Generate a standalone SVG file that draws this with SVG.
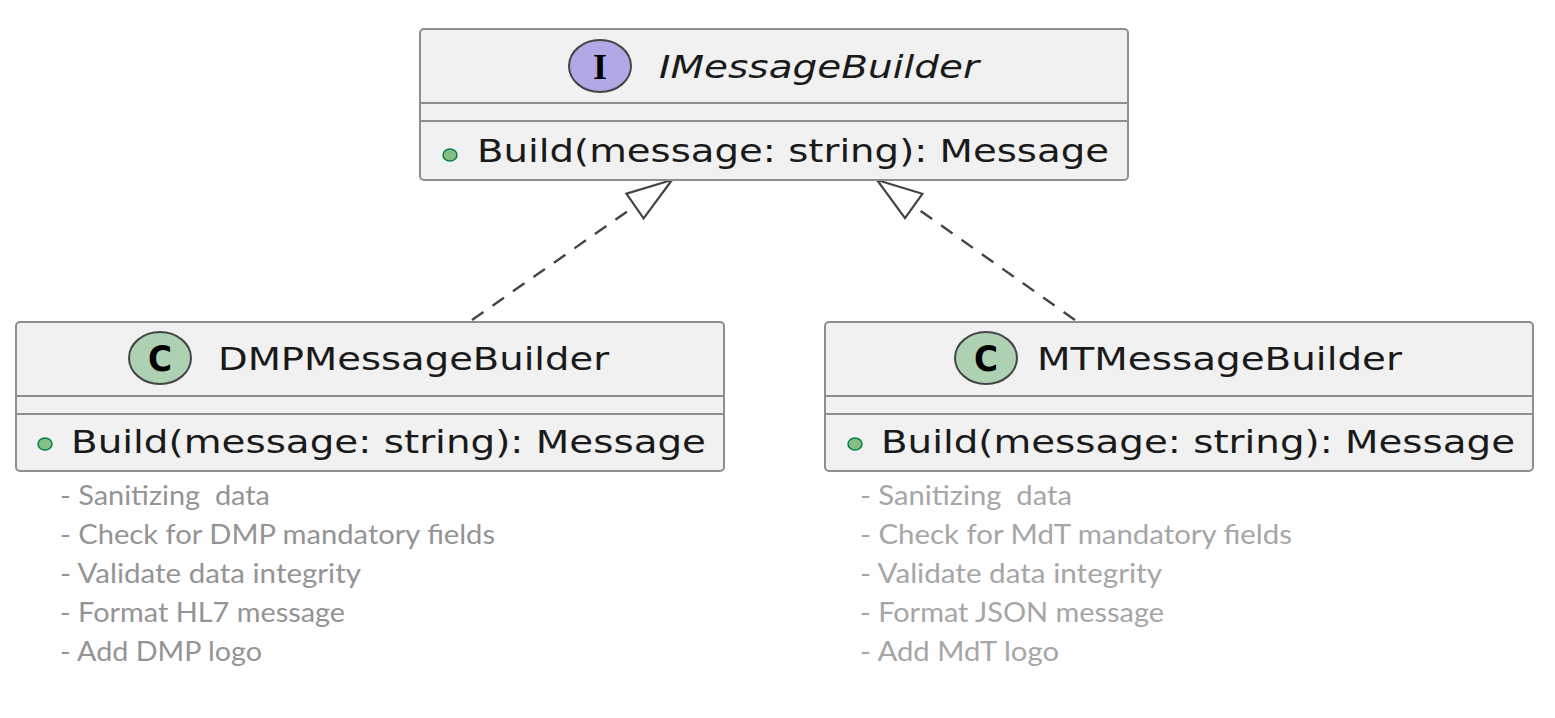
<svg xmlns="http://www.w3.org/2000/svg" width="1555" height="718" viewBox="0 0 1555 718">
<style>
  .box { fill: #F1F1F1; stroke: #8E8E8E; stroke-width: 2; }
  .sep { stroke: #8E8E8E; stroke-width: 2; }
  .title { font-family: "DejaVu Sans", sans-serif; font-size: 32px; fill: #1a1a1a; }
  .ititle { font-family: "DejaVu Sans", sans-serif; font-size: 32px; font-style: italic; fill: #1a1a1a; }
  .meth { font-family: "DejaVu Sans", sans-serif; font-size: 32px; fill: #1a1a1a; }
  .dot { fill: #84BE84; stroke: #038048; stroke-width: 1.5; }
  .icon-i { fill: #B4A7E5; stroke: #454545; stroke-width: 2; }
  .icon-c { fill: #ADD1B2; stroke: #454545; stroke-width: 2; }
  .glyph-i { font-family: "Liberation Serif", serif; font-weight: bold; font-size: 36px; fill: #000; }
  .glyph-c { font-family: "DejaVu Sans", sans-serif; font-weight: bold; font-size: 36px; fill: #000; }
  .note { font-family: Lato, "Open Sans", sans-serif; font-size: 27px; white-space: pre; }
  .noteL { fill: #949494; }
  .noteR { fill: #A6A6A6; }
  .dash { stroke: #454545; stroke-width: 2.4; stroke-dasharray: 14 11; fill: none; }
  .head { fill: #FFFFFF; stroke: #454545; stroke-width: 2.2; stroke-linejoin: miter; }
</style>

<g id="connectors">
  <line class="dash" x1="472" y1="320" x2="635" y2="206"/>
  <polygon class="head" points="672,180 643.6,218.3 626.4,193.7"/>
  <line class="dash" x1="1075" y1="320" x2="913.7" y2="206"/>
  <polygon class="head" points="877,180 922.4,193.8 905,218.2"/>
</g>

<g id="IMessageBuilder">
  <rect class="box" x="420" y="29" width="708" height="151" rx="4"/>
  <line class="sep" x1="420" y1="103" x2="1128" y2="103"/>
  <line class="sep" x1="420" y1="121" x2="1128" y2="121"/>
  <ellipse class="icon-i" cx="600" cy="66" rx="31" ry="26"/>
  <text class="glyph-i" x="600" y="79" text-anchor="middle">I</text>
  <text class="ititle" x="659" y="78" textLength="320" lengthAdjust="spacingAndGlyphs">IMessageBuilder</text>
  <ellipse class="dot" cx="450" cy="155" rx="7" ry="6"/>
  <text class="meth" x="477" y="162" textLength="632" lengthAdjust="spacingAndGlyphs">Build(message: string): Message</text>
</g>

<g id="DMPMessageBuilder">
  <rect class="box" x="16" y="322" width="708" height="149" rx="4"/>
  <line class="sep" x1="16" y1="396" x2="724" y2="396"/>
  <line class="sep" x1="16" y1="414" x2="724" y2="414"/>
  <ellipse class="icon-c" cx="160" cy="358" rx="31" ry="26"/>
  <text class="glyph-c" x="160" y="371" text-anchor="middle" textLength="24" lengthAdjust="spacingAndGlyphs">C</text>
  <text class="title" x="218" y="370" textLength="391" lengthAdjust="spacingAndGlyphs">DMPMessageBuilder</text>
  <ellipse class="dot" cx="45" cy="444" rx="7" ry="6"/>
  <text class="meth" x="71" y="453" textLength="635" lengthAdjust="spacingAndGlyphs">Build(message: string): Message</text>
</g>

<g id="MTMessageBuilder">
  <rect class="box" x="825" y="322" width="708" height="149" rx="4"/>
  <line class="sep" x1="825" y1="396" x2="1533" y2="396"/>
  <line class="sep" x1="825" y1="414" x2="1533" y2="414"/>
  <ellipse class="icon-c" cx="986" cy="358" rx="31" ry="26"/>
  <text class="glyph-c" x="986" y="371" text-anchor="middle" textLength="24" lengthAdjust="spacingAndGlyphs">C</text>
  <text class="title" x="1037" y="370" textLength="365" lengthAdjust="spacingAndGlyphs">MTMessageBuilder</text>
  <ellipse class="dot" cx="855" cy="444" rx="7" ry="6"/>
  <text class="meth" x="881" y="453" textLength="634" lengthAdjust="spacingAndGlyphs">Build(message: string): Message</text>
</g>

<g id="notes-dmp" class="note noteL">
  <text xml:space="preserve" x="60" y="505" textLength="210" lengthAdjust="spacingAndGlyphs">- Sanitizing  data</text>
  <text x="60" y="544" textLength="435" lengthAdjust="spacingAndGlyphs">- Check for DMP mandatory fields</text>
  <text x="60" y="583" textLength="301" lengthAdjust="spacingAndGlyphs">- Validate data integrity</text>
  <text x="60" y="622" textLength="285" lengthAdjust="spacingAndGlyphs">- Format HL7 message</text>
  <text x="60" y="661" textLength="202" lengthAdjust="spacingAndGlyphs">- Add DMP logo</text>
</g>

<g id="notes-mt" class="note noteR">
  <text xml:space="preserve" x="860" y="505" textLength="212" lengthAdjust="spacingAndGlyphs">- Sanitizing  data</text>
  <text x="860" y="544" textLength="432" lengthAdjust="spacingAndGlyphs">- Check for MdT mandatory fields</text>
  <text x="860" y="583" textLength="302" lengthAdjust="spacingAndGlyphs">- Validate data integrity</text>
  <text x="860" y="622" textLength="304" lengthAdjust="spacingAndGlyphs">- Format JSON message</text>
  <text x="860" y="661" textLength="199" lengthAdjust="spacingAndGlyphs">- Add MdT logo</text>
</g>
</svg>
